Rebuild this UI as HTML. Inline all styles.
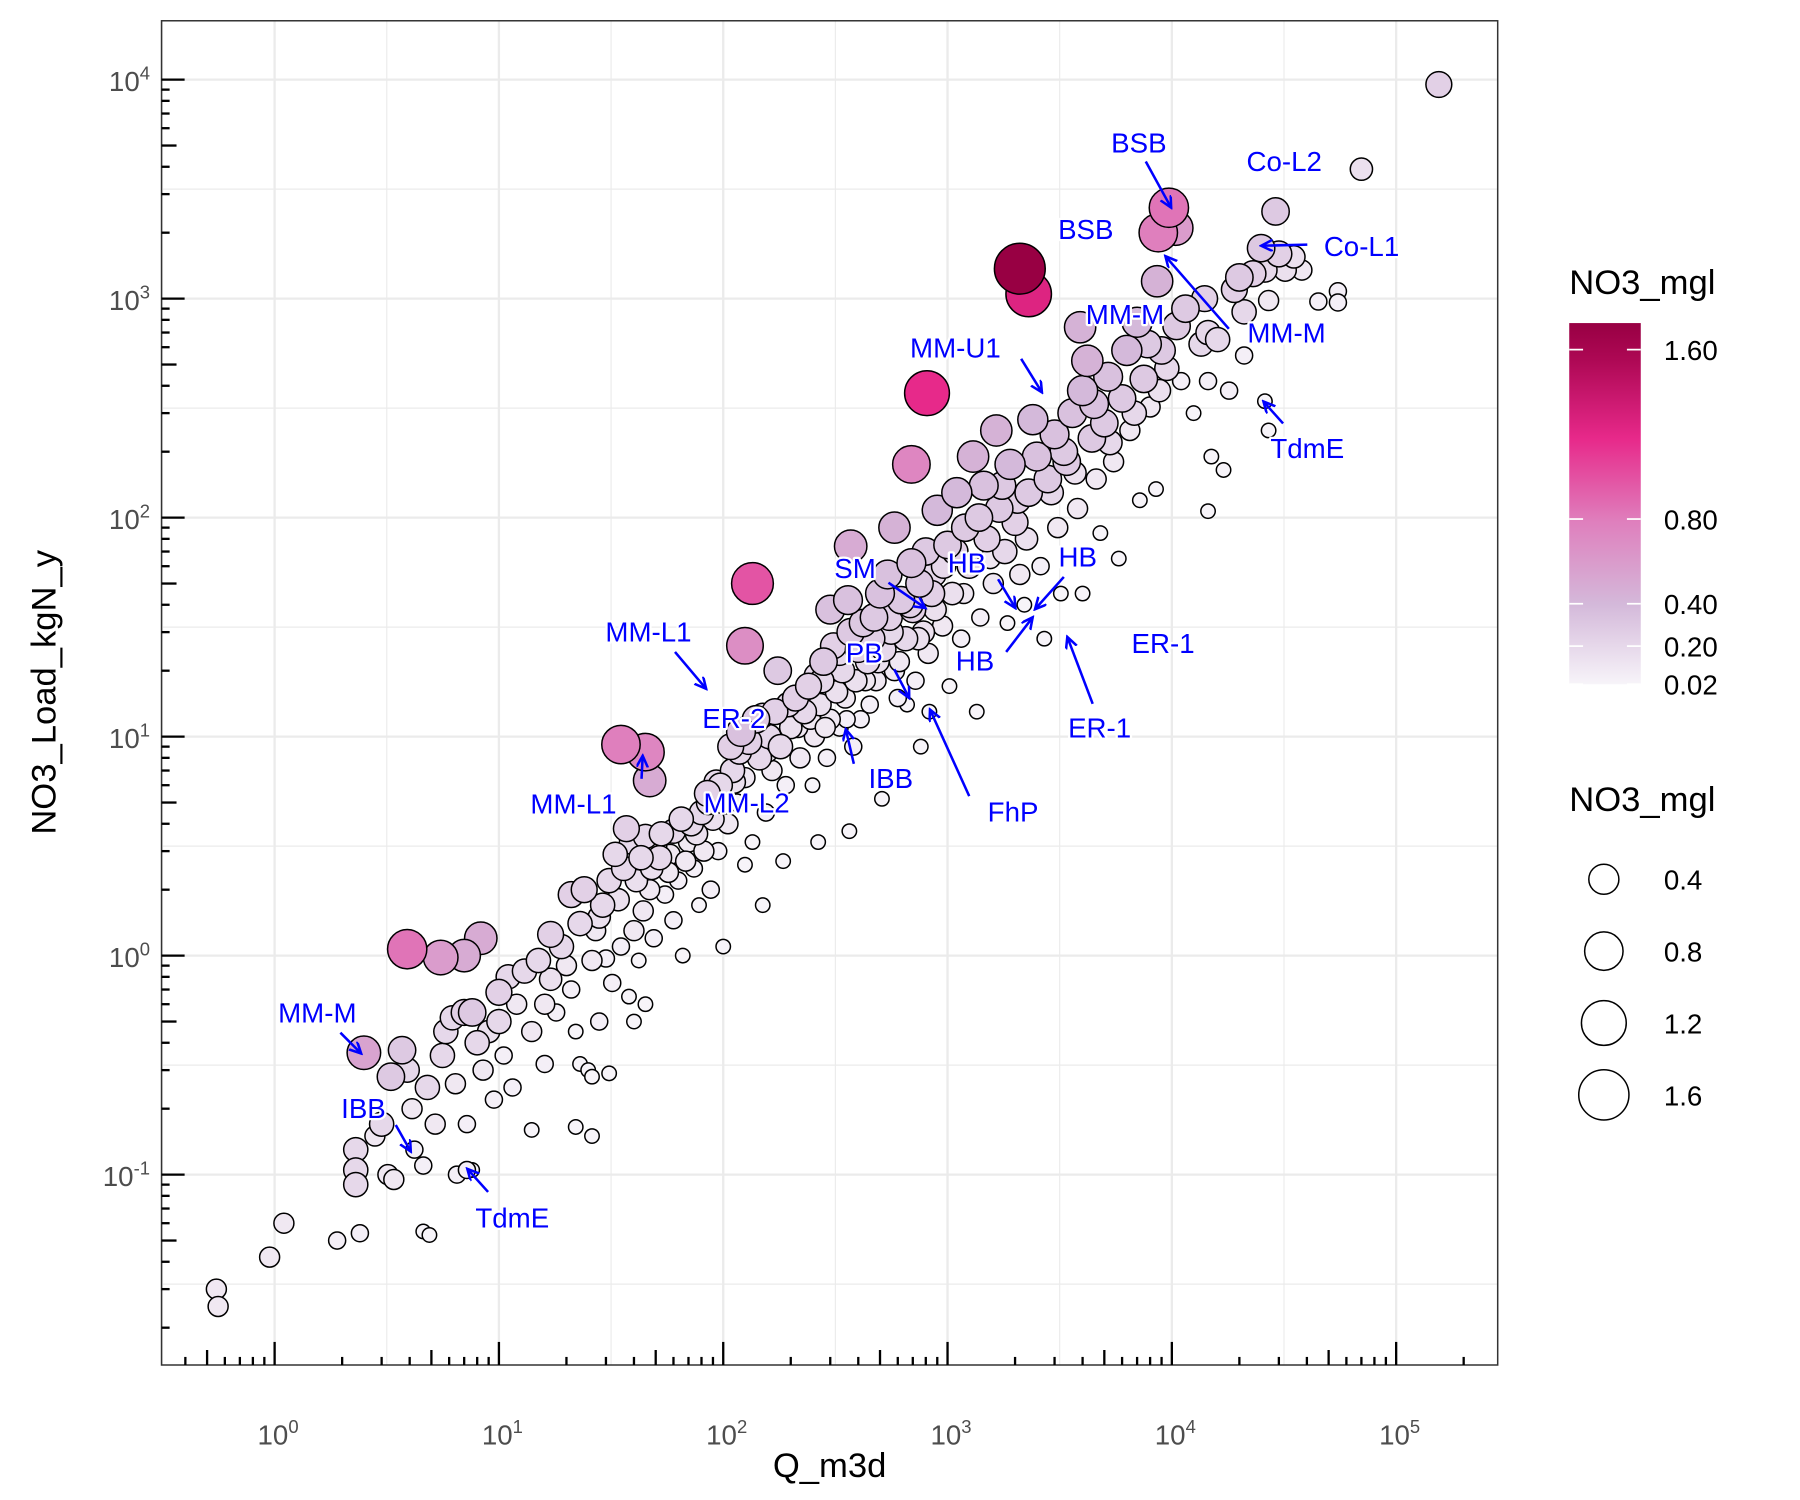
<!DOCTYPE html>
<html><head><meta charset="utf-8"><style>
html,body{margin:0;padding:0;background:#fff;}
svg{display:block;font-family:"Liberation Sans",sans-serif;}
</style></head><body>
<svg id="chart" width="1800" height="1500" viewBox="0 0 1560 1300" xmlns="http://www.w3.org/2000/svg">
<defs>
<marker id="arr" markerWidth="12" markerHeight="12" refX="10" refY="5" orient="auto" markerUnits="userSpaceOnUse"><path d="M0,0 L10,5 L0,10" fill="none" stroke="#0000ff" stroke-width="2.2"/></marker>
<linearGradient id="cbar" x1="0" y1="1" x2="0" y2="0">
<stop offset="0" stop-color="#f7f4f9"/><stop offset="0.22" stop-color="#d4b9da"/><stop offset="0.45" stop-color="#df7fbd"/><stop offset="0.68" stop-color="#e7298a"/><stop offset="0.9" stop-color="#ad0854"/><stop offset="1" stop-color="#980043"/>
</linearGradient>
</defs>
<g id="grid"></g>
<rect x="140" y="18" width="1158" height="1165" fill="none" stroke="#333" stroke-width="1.3"/>
<g id="points"></g>
<g id="ticks"></g>
<g id="labels"></g>
<g id="annot"></g>
<text x="719" y="1280" font-size="30" text-anchor="middle" fill="#000">Q_m3d</text>
<text transform="translate(48,600) rotate(-90)" font-size="30" text-anchor="middle" fill="#000">NO3_Load_kgN_y</text>
<g id="legend">
<text x="1360" y="255" font-size="30">NO3_mgl</text>
<rect x="1360" y="280" width="62" height="313" fill="url(#cbar)"/>
<g id="cbticks"></g>
<text x="1360" y="703" font-size="30">NO3_mgl</text>
<g id="sizeleg"></g>
</g>
</svg>
<script>
// observations: [Q_m3d, NO3_Load_kgN_y, NO3_mgl]
const obs = [
[0.55,0.030,0.1],[0.56,0.025,0.1],[0.95,0.042,0.1],[1.1,0.06,0.1],
[1.9,0.05,0.05],[2.4,0.054,0.05],[2.3,0.13,0.2],[2.3,0.105,0.2],[2.3,0.09,0.2],[3.2,0.1,0.1],[3.4,0.095,0.1],[2.8,0.15,0.1],[3.0,0.17,0.2],[3.3,0.28,0.3],[3.7,0.37,0.3],[3.9,0.3,0.2],[4.1,0.2,0.1],[4.2,0.13,0.05],[4.6,0.11,0.05],[4.6,0.055,0.02],[4.9,0.053,0.02],[4.8,0.25,0.2],[5.2,0.17,0.1],[5.6,0.35,0.2],[5.8,0.45,0.2],[6.2,0.52,0.2],[6.4,0.26,0.1],[6.5,0.1,0.05],[7.2,0.105,0.05],[7.6,0.105,0.02],[7.2,0.17,0.05],[7.0,0.55,0.25],[7.6,0.55,0.3],[8.0,0.4,0.2],[8.5,0.3,0.1],[9.0,0.45,0.15],[9.5,0.22,0.05],[10,0.5,0.2],[10,0.68,0.25],[10.5,0.35,0.05],[11,0.8,0.2],[11.5,0.25,0.05],[12,0.6,0.1],[13,0.85,0.2],[14,0.16,0.02],[14,0.45,0.1],[15,0.95,0.2],[16,0.6,0.1],[16,0.32,0.05],[17,0.78,0.15],[17,1.25,0.25],[18,0.55,0.05],[19,1.1,0.2],[20,0.9,0.1],[21,0.7,0.05],[21,1.9,0.25],[22,0.165,0.02],[22,0.45,0.02],[23,1.4,0.2],[23,0.32,0.02],[24,2.0,0.25],[25,0.3,0.02],[26,0.15,0.02],[26,0.95,0.1],[26,0.28,0.02],[27,1.3,0.1],[28,0.5,0.05],[29,1.7,0.2],[30,0.97,0.05],[31,0.29,0.02],[31,2.2,0.2],[32,0.75,0.05],[34,1.8,0.15],[35,1.1,0.05],[36,2.5,0.2],[37,3.8,0.25],[38,0.65,0.02],[39,3.3,0.2],[40,1.3,0.1],[40,0.5,0.02],[41,2.2,0.15],[42,0.95,0.02],[44,1.6,0.1],[45,3.5,0.2],[45,0.6,0.02],[48,2.5,0.15],[49,1.2,0.05],[50,3.2,0.15],[52,2.8,0.2],[55,1.9,0.05],[58,2.9,0.1],[60,1.45,0.05],[60,3.7,0.2],[63,2.2,0.05],[66,1.0,0.02],[70,3.3,0.1],[72,4.0,0.2],[74,2.5,0.05],[78,1.7,0.02],[80,4.5,0.2],[82,3.0,0.1],[85,5.5,0.25],[88,2.0,0.05],[90,4.2,0.15],[93,6.2,0.2],[95,3.0,0.05],[100,1.1,0.02],[100,5.0,0.15],[105,4.0,0.1],[110,7.0,0.2],[115,5.0,0.05],[120,10.5,0.35],[125,2.6,0.02],[125,6.5,0.1],[130,9.5,0.25],[135,3.3,0.02],[140,12,0.3],[145,8,0.2],[150,1.7,0.02],[155,4.5,0.05],[160,10,0.2],[165,7,0.1],[170,13,0.25],[175,20,0.3],[180,9,0.2],[185,2.7,0.02],[190,6,0.05],[200,11,0.15],[210,15,0.25],[220,8,0.1],[230,13,0.2],[240,17,0.25],[250,6,0.02],[255,10,0.1],[260,19,0.2],[265,3.3,0.02],[270,14,0.15],[280,22,0.3],[290,8,0.05],[300,12,0.1],[300,38,0.35],[310,26,0.25],[320,16,0.15],[330,11,0.05],[340,20,0.2],[350,15,0.1],[360,42,0.35],[365,3.7,0.02],[370,30,0.3],[380,9,0.05],[390,18,0.15],[400,25,0.25],[410,12,0.05],[420,33,0.3],[440,22,0.2],[450,14,0.05],[460,28,0.25],[480,18,0.1],[500,45,0.35],[510,5.2,0.02],[520,25,0.2],[540,55,0.35],[550,35,0.25],[580,90,0.45],[580,20,0.1],[600,15,0.05],[620,42,0.3],[650,28,0.2],[660,14,0.02],[690,62,0.35],[700,38,0.25],[720,18,0.05],[750,50,0.3],[760,9,0.02],[780,30,0.15],[800,70,0.3],[820,24,0.1],[830,13,0.02],[850,45,0.25],[870,55,0.2],[900,108,0.4],[950,32,0.1],[1000,75,0.3],[1020,17,0.02],[1050,45,0.15],[1100,130,0.4],[1150,28,0.05],[1200,90,0.3],[1250,60,0.2],[1300,190,0.45],[1350,13,0.02],[1400,35,0.05],[1450,140,0.35],[1500,80,0.25],[1600,50,0.1],[1650,250,0.45],[1700,110,0.3],[1800,70,0.2],[1850,33,0.02],[1900,175,0.4],[2000,95,0.25],[2100,55,0.1],[2200,40,0.02],[2300,130,0.3],[2400,280,0.4],[2500,190,0.35],[2600,60,0.05],[2700,28,0.02],[2800,150,0.3],[3000,240,0.35],[3100,90,0.1],[3200,45,0.02],[3400,180,0.3],[3600,300,0.35],[3800,110,0.1],[4000,45,0.02],[4000,380,0.4],[4200,520,0.45],[4400,230,0.3],[4600,150,0.1],[4800,85,0.02],[5000,270,0.3],[5200,440,0.35],[5500,180,0.1],[5800,65,0.02],[6000,350,0.3],[6300,580,0.4],[6500,250,0.1],[7000,780,0.4],[7200,120,0.02],[7500,430,0.3],[8000,320,0.1],[8500,135,0.02],[8600,1200,0.45],[9000,580,0.3],[9500,480,0.2],[10500,750,0.3],[11000,420,0.05],[12500,300,0.02],[13500,620,0.2],[14000,1000,0.25],[14500,700,0.2],[14500,420,0.05],[15000,190,0.02],[14500,107,0.02],[17000,165,0.02],[18000,380,0.05],[20000,1250,0.3],[21000,870,0.2],[21000,550,0.05],[23000,1300,0.25],[25000,1700,0.3],[26000,1350,0.2],[27000,980,0.1],[26000,340,0.02],[27000,250,0.02],[30000,1600,0.25],[32000,1350,0.15],[35000,1550,0.15],[38000,1350,0.1],[45000,970,0.05],[55000,1080,0.05],[55000,960,0.05],[29000,2500,0.3],[70000,3900,0.15],[155000,9500,0.25],
[28,1.5,0.15],[33,2.9,0.2],[43,2.8,0.2],[47,2.0,0.1],[53,3.6,0.2],[57,2.4,0.1],[65,4.2,0.2],[68,2.7,0.1],[76,3.6,0.15],[86,5.0,0.2],[97,6.0,0.2],[108,9.0,0.25],[112,6.2,0.15],[118,8.5,0.2],[150,12.5,0.2],[158,8.5,0.1],[195,14,0.2],[215,11,0.1],[245,12,0.1],[275,18,0.2],[285,11,0.1],[330,24,0.2],[355,12,0.05],[430,18,0.1],[470,35,0.3],[490,22,0.15],[560,30,0.2],[610,22,0.1],[680,40,0.25],[740,28,0.15],[880,38,0.15],[960,60,0.2],[1080,70,0.25],[1180,45,0.1],[1380,100,0.3],[1550,65,0.1],[1750,140,0.3],[2050,120,0.25],[2250,80,0.15],[2900,130,0.2],[3300,200,0.3],[3700,160,0.15],[4500,330,0.35],[5300,220,0.2],[6800,300,0.2],[7800,620,0.3],[8800,380,0.15],[11500,900,0.3],[16000,650,0.2],[19000,1100,0.25],
[3900,740,0.45],[370,74,0.5],[47,6.3,0.5],[8.3,1.2,0.5],[7,1.0,0.5],[2.5,0.36,0.55],[10400,2100,0.6],[5.5,0.98,0.6],[125,26,0.7],[690,175,0.75],[45,8.5,0.75],[8700,2000,0.8],[35,9.2,0.8],[9700,2600,0.85],[3.9,1.07,0.85],[135,50,1.0],[810,370,1.2],[2300,1050,1.25],[2100,1370,1.65]
];
const xTickExp = [0,1,2,3,4,5];
const yTickExp = [-1,0,1,2,3,4];
const cbarTicks = [0.02,0.20,0.40,0.80,1.60];
const sizeLegend = [0.4,0.8,1.2,1.6];

const NS='http://www.w3.org/2000/svg';
const X0=140,X1=1298,Y0=18,Y1=1183;
function xs(q){return 238+194.4*Math.log10(q);}
function ys(l){return 69+189.8*(4-Math.log10(l));}
function rs(v){return 4.3+13.8*Math.sqrt(v);}
function cbY(v){return 593-(v-0.02)*(290/1.58);}
const stops=[[0.02,[247,244,249]],[0.4,[212,185,218]],[0.8,[223,127,189]],[1.2,[231,41,138]],[1.6,[152,0,67]]];
function col(v){
  if(v<=stops[0][0])return 'rgb('+stops[0][1]+')';
  for(let i=1;i<stops.length;i++){if(v<=stops[i][0]){const a=stops[i-1],b=stops[i],t=(v-a[0])/(b[0]-a[0]);return 'rgb('+a[1].map((c,k)=>Math.round(c+(b[1][k]-c)*t)).join(',')+')';}}
  return 'rgb('+stops[4][1]+')';
}
function mk(tag,attrs,parent){const e=document.createElementNS(NS,tag);for(const k in attrs)e.setAttribute(k,attrs[k]);parent.appendChild(e);return e;}

const grid=document.getElementById('grid');
for(let e=-1;e<=5;e++){
  for(const h of [0,0.5]){
    const x=xs(Math.pow(10,e+h));
    if(x>X0&&x<X1){const l=mk('line',{x1:x,x2:x,y1:Y0,y2:Y1,stroke:'#ebebeb','stroke-width':h?1:2},grid);
      
      }
  }
}
for(let e=-3;e<=4;e++){
  for(const h of [0,0.5]){
    const y=ys(Math.pow(10,e+h));
    if(y>Y0&&y<Y1){const l=mk('line',{x1:X0,x2:X1,y1:y,y2:y,stroke:'#ebebeb','stroke-width':h?1:2},grid);
      
      }
  }
}
const pg=document.getElementById('points');
const order=obs.map((d,i)=>i).sort((a,b)=>obs[a][2]-obs[b][2]);
for(const i of order){const d=obs[i];
  const c=mk('circle',{cx:xs(d[0]),cy:ys(d[1]),r:rs(d[2]),fill:col(d[2]),stroke:'#000','stroke-width':1.3},pg);
  
  
}
const tg=document.getElementById('ticks');
for(let e=-1;e<=5;e++)for(let m=1;m<=9;m++){
  const x=xs(m*Math.pow(10,e));if(x<X0+5||x>X1-5)continue;
  const len=m===1?20:(m===5?13:7);
  const t=mk('line',{x1:x,x2:x,y1:Y1,y2:Y1-len,stroke:'#000','stroke-width':2},tg);
  
  
}
for(let e=-2;e<=4;e++)for(let m=1;m<=9;m++){
  const y=ys(m*Math.pow(10,e));if(y<Y0+5||y>Y1-5)continue;
  const len=m===1?20:(m===5?13:7);
  const t=mk('line',{x1:X0,x2:X0+len,y1:y,y2:y,stroke:'#000','stroke-width':2},tg);
  
  
}
const lg=document.getElementById('labels');
function powLabel(x,y,e,anchor,name){
  const t=mk('text',{x:x,y:y,'font-size':24,fill:'#4d4d4d','text-anchor':anchor},lg);
  
  
  const a=mk('tspan',{},t);a.textContent='10';
  const b=mk('tspan',{dy:-10,'font-size':16},t);b.textContent=String(e);
}
for(const e of xTickExp)powLabel(xs(Math.pow(10,e))+3,1252,e,'middle','x-tick-label');
for(const e of yTickExp)powLabel(130,ys(Math.pow(10,e))+10,e,'end','y-tick-label');
const cg=document.getElementById('cbticks');
for(const v of cbarTicks){const y=cbY(v);
  mk('line',{x1:1360,x2:1372,y1:y,y2:y,stroke:'#fff','stroke-width':1.5},cg);
  mk('line',{x1:1410,x2:1422,y1:y,y2:y,stroke:'#fff','stroke-width':1.5},cg);
  const t=mk('text',{x:1442,y:y+9,'font-size':24,fill:'#000'},cg);t.textContent=v.toFixed(2);
  
  
}
const sg=document.getElementById('sizeleg');
sizeLegend.forEach((v,i)=>{const y=762+i*62.3;
  const c=mk('circle',{cx:1390,cy:y,r:rs(v),fill:'#fff',stroke:'#000','stroke-width':1.3},sg);
  
  
  const t=mk('text',{x:1442,y:y+9,'font-size':24,fill:'#000'},sg);t.textContent=v.toFixed(1);
  
  
});
const ann=[
['BSB',987,123,[993,140,1015,180]],['Co-L2',1113,139,null],['BSB',941,198,null],
['Co-L1',1180,213,[1133,212,1093,213]],['MM-M',975,272,null],['MM-M',1115,288,[1065,285,1010,222]],
['MM-U1',828,301,[885,311,903,340]],['TdmE',1133,388,[1112,367,1095,348]],['SM',741,492,[770,505,802,527]],
['HB',838,487,[865,502,880,527]],['HB',934,482,[922,500,897,528]],['HB',845,572,[872,565,895,535]],
['ER-1',1008,557,null],['ER-1',953,630,[947,610,925,552]],['PB',749,565,[775,580,788,605]],
['MM-L1',562,547,[585,565,612,597]],['ER-2',636,622,null],['IBB',772,674,[740,662,733,632]],
['FhP',878,703,[840,690,806,615]],['MM-L1',497,696,[556,675,557,655]],['MM-L2',647,695,null],
['MM-M',275,877,[295,895,313,913]],['IBB',315,960,[343,975,356,998]],['TdmE',444,1055,[423,1033,405,1013]]
];
const ag=document.getElementById('annot');
for(const a of ann){
  if(a[3]){const l=mk('line',{x1:a[3][0],y1:a[3][1],x2:a[3][2],y2:a[3][3],stroke:'#0000ff','stroke-width':2.2,'marker-end':'url(#arr)'},ag);
    
    }
  const t=mk('text',{x:a[1],y:a[2]+9,'font-size':24,fill:'#0000ff','text-anchor':'middle',stroke:'#fff','stroke-width':4,'paint-order':'stroke','stroke-linejoin':'round'},ag);
  t.textContent=a[0];
  
  
}
</script>
</body></html>
